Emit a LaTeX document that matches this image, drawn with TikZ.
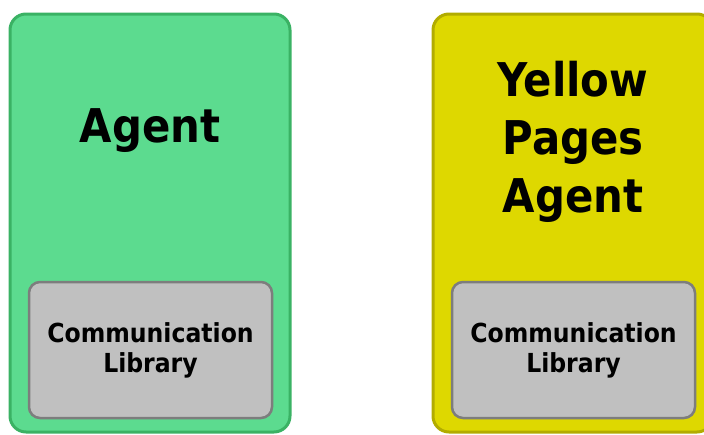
\documentclass[tikz,border=0pt]{standalone}
\usepackage{fontspec}
\setmainfont{DejaVu Sans Condensed}
\definecolor{agentfill}{RGB}{92,219,143}
\definecolor{agentline}{RGB}{58,178,100}
\definecolor{ypfill}{RGB}{222,216,0}
\definecolor{ypline}{RGB}{178,172,0}
\definecolor{libfill}{RGB}{192,192,192}
\definecolor{libline}{RGB}{125,125,125}
\begin{document}
\begin{tikzpicture}[x=1pt,y=-1pt,
                    outer box/.style={rectangle,rounded corners=16pt,line width=3pt,minimum width=280pt,minimum height=418pt,inner sep=0pt},
                    lib box/.style={rectangle,rounded corners=11pt,draw=libline,fill=libfill,line width=2.5pt,minimum width=243pt,minimum height=136pt,inner sep=0pt},
                    title/.style={align=center,font=\fontsize{46.5}{58}\selectfont\bfseries},
                    lib text/.style={align=center,font=\fontsize{26.2}{30}\selectfont\bfseries}
                   ]
  \useasboundingbox (0,0) rectangle (704,434);
  \clip (0,0) rectangle (704,434);
  \node[outer box,draw=agentline,fill=agentfill] (agent) at (150,223) {};
  \node[outer box,draw=ypline,fill=ypfill] (yp) at (573,223) {};
  \node[lib box] (lib1) at (150.5,350) {};
  \node[lib box] (lib2) at (573.5,350) {};
  \node[title] (agentname) at (150,131) {Agent};
  \node[title] (ypname) at (573,142) {Yellow\\Pages\\Agent};
  \node[lib text] at (lib1) {Communication\\Library};
  \node[lib text] at (lib2) {Communication\\Library};  %same library in both agents
\end{tikzpicture}
\end{document}
